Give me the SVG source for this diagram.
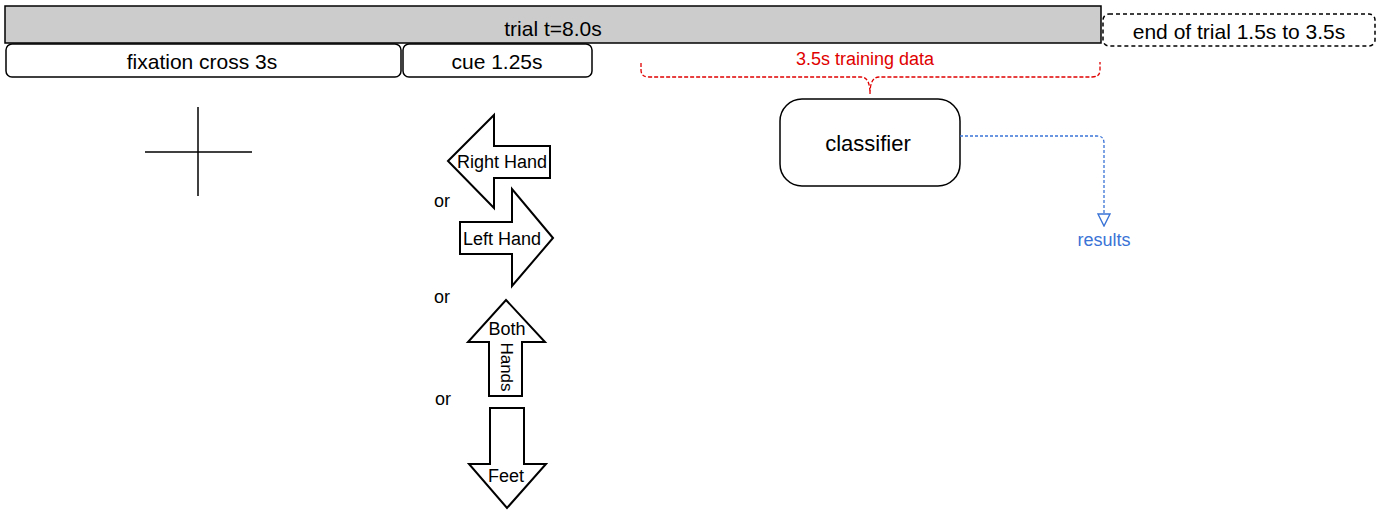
<svg xmlns="http://www.w3.org/2000/svg" width="1381" height="510" viewBox="0 0 1381 510">
<style>
text{font-family:"Liberation Sans",Arial,sans-serif;text-anchor:middle;dominant-baseline:central;fill:#000}
.box{fill:#fff;stroke:#000;stroke-width:1.5}
.arrow{fill:#fff;stroke:#000;stroke-width:2;stroke-linejoin:miter}
.t21{font-size:21px}
.t18{font-size:18px}
</style>
<defs>
<marker id="tri" viewBox="0 0 14 14" refX="1" refY="7" markerWidth="14" markerHeight="14" markerUnits="userSpaceOnUse" orient="auto">
<path d="M1,1 L13,7 L1,13 Z" fill="#fff" stroke="#3a73d6" stroke-width="1.4"/>
</marker>
</defs>
<rect width="1381" height="510" fill="#fff"/>
<g id="trial">
<rect x="5" y="6" width="1096" height="37" fill="#cccccc" stroke="#000" stroke-width="1.5"/>
<text x="553" y="28" class="t21">trial t=8.0s</text>
</g>
<g id="end-of-trial">
<rect x="1103" y="14" width="272" height="32" rx="6" fill="#fff" stroke="#000" stroke-width="1.5" stroke-dasharray="4,3"/>
<text x="1239" y="31" class="t21">end of trial 1.5s to 3.5s</text>
</g>
<g id="fixation">
<rect class="box" x="6" y="44" width="395" height="33" rx="6"/>
<text x="202" y="61" class="t21">fixation cross 3s</text>
</g>
<g id="cue">
<rect class="box" x="403" y="44" width="189" height="33" rx="6"/>
<text x="497" y="61" class="t21">cue 1.25s</text>
</g>
<g id="training-data">
<path d="M641,63 L641,70 Q641,77 649,77 L861,77 Q870,77 870,94 Q870,77 879,77 L1092,77 Q1100,77 1100,70 L1100,62" fill="none" stroke="#e00000" stroke-width="1.3" stroke-dasharray="4,2"/>
<text x="865" y="59" class="t18" style="fill:#e00000">3.5s training data</text>
</g>
<g id="cross">
<line x1="145" y1="152" x2="252" y2="152" stroke="#000" stroke-width="1.5"/>
<line x1="198" y1="107" x2="198" y2="196" stroke="#000" stroke-width="1.5"/>
</g>
<g id="right-hand">
<path class="arrow" d="M448,161 L494,115 L494,146 L550,146 L550,178 L494,178 L494,208 Z"/>
<text x="502" y="162" class="t18">Right Hand</text>
</g>
<g id="left-hand">
<path class="arrow" d="M553,238 L512,189 L512,222 L460,222 L460,254 L512,254 L512,286 Z"/>
<text x="502" y="239" class="t18">Left Hand</text>
</g>
<g id="both-hands">
<path class="arrow" d="M506,300 L545,342 L522,342 L522,396 L489,396 L489,342 L468,342 Z"/>
<text x="507" y="329" class="t18">Both</text>
<text x="0" y="0" style="font-size:17px" transform="translate(506,367) rotate(90)">Hands</text>
</g>
<g id="feet">
<path class="arrow" d="M490,408 L524,408 L524,464 L546,464 L507,508 L469,464 L490,464 Z"/>
<text x="506" y="476" class="t18">Feet</text>
</g>
<g id="or-labels">
<text x="442" y="201" class="t18">or</text>
<text x="442" y="297" class="t18">or</text>
<text x="443" y="399" class="t18">or</text>
</g>
<g id="classifier">
<rect class="box" x="780" y="99" width="180" height="87" rx="22"/>
<text x="868" y="143" style="font-size:22px">classifier</text>
</g>
<g id="results">
<text x="1104" y="240" class="t18" style="fill:#3a73d6">results</text>
</g>
<g id="connectors">
<path d="M960,136 L1097,136 Q1104,136 1104,143 L1104,214" fill="none" stroke="#3a73d6" stroke-width="1.3" stroke-dasharray="3,2" marker-end="url(#tri)"/>
</g>
</svg>
